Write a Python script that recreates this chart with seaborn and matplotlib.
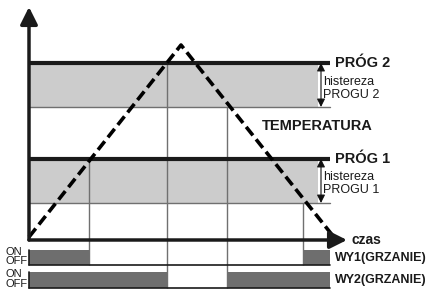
import numpy as np
import pandas as pd
import matplotlib.pyplot as plt
import seaborn as sns

# chart units: time to the right of the y axis, temperature above the time axis
tri_time = [0, 152, 304]
tri_temp = [3, 195, 4]

prog2 = 177
prog1 = 81
hyst = 44          # same hysteresis band for both thresholds
t_end = 301        # right end of the threshold lines
t_band = 289       # right end of the grey hysteresis bands
t_arrow = 292      # where the hysteresis arrows sit

# switching moments read from the vertical guides
t_wy1_off, t_wy2_off, t_wy2_on, t_wy1_on = 60, 138, 198, 274

# output rows (ON / OFF levels below the time axis)
wy1_on, wy1_off = -10, -25
wy2_on, wy2_off = -32, -48

sns.set_style("white")
plt.rcParams['font.family'] = ['Liberation Sans', 'DejaVu Sans']

fig = plt.figure(figsize=(4.29, 2.89), dpi=100)
ax = fig.add_axes([0, 0, 1, 1])
ax.set_xlim(-29, 400)
ax.set_ylim(-49, 240)
ax.axis('off')

dark = '#1a1a1a'
guide = '#707070'

# hysteresis bands
for p in (prog2, prog1):
    ax.fill_between([0, t_band], p - hyst, p, color='#cccccc', lw=0, zorder=1)
    ax.plot([0, t_end], [p - hyst, p - hyst], color=guide, lw=1, zorder=2)
    ax.plot([0, t_end], [p, p], color=dark, lw=3, solid_capstyle='butt', zorder=4)
    ax.annotate('', xy=(t_arrow, p - hyst), xytext=(t_arrow, p),
                arrowprops=dict(arrowstyle='<|-|>', color='#111111', lw=0.8,
                                mutation_scale=12, shrinkA=0, shrinkB=0), zorder=5)

# vertical switching guides
ax.vlines(t_wy1_off, wy1_off, prog1, color=guide, lw=1, zorder=2)
ax.vlines(t_wy2_off, wy2_off, prog2, color=guide, lw=1, zorder=2)
ax.vlines(t_wy2_on, wy2_off, prog2 - hyst, color=guide, lw=1, zorder=2)
ax.vlines(t_wy1_on, wy1_off, prog1 - hyst, color=guide, lw=1, zorder=2)

# temperature course
df = pd.DataFrame({'czas': tri_time, 'temp': tri_temp})
sns.lineplot(data=df, x='czas', y='temp', ax=ax, color='black', lw=2.6,
             dashes=False, zorder=6)
ax.lines[-1].set_dashes((3.0, 1.4))
ax.set_xlabel('')
ax.set_ylabel('')

# axes with arrows
ax.annotate('', xy=(0, 233), xytext=(0, 0),
            arrowprops=dict(arrowstyle='-|>', color=dark, lw=2.5,
                            mutation_scale=26, shrinkA=0, shrinkB=0), zorder=7)
ax.annotate('', xy=(318, 0), xytext=(0, 0),
            arrowprops=dict(arrowstyle='-|>', color=dark, lw=2.5,
                            mutation_scale=26, shrinkA=0, shrinkB=0), zorder=7)

# output rows
bar_grey = '#6e6e6e'
for spans, on, off in (([(0, t_wy1_off), (t_wy1_on, t_end)], wy1_on, wy1_off),
                       ([(0, t_wy2_off), (t_wy2_on, t_end)], wy2_on, wy2_off)):
    for a, b in spans:
        ax.fill_between([a, b], off, on, color=bar_grey, lw=0, zorder=3)
    ax.plot([0, t_end], [off, off], color=dark, lw=1.2, zorder=4)
    ax.plot([0, 0], [off, on], color=dark, lw=1.2, zorder=4)

# texts
tx = 306
ax.text(tx, prog2, 'PRÓG 2', fontsize=10.5, fontweight='bold', va='center', color=dark)
ax.text(tx, prog1, 'PRÓG 1', fontsize=10.5, fontweight='bold', va='center', color=dark)
ax.text(294, prog2 - 19, 'histereza', fontsize=9, va='center', color=dark)
ax.text(294, prog2 - 32, 'PROGU 2', fontsize=9, va='center', color=dark)
ax.text(294, prog1 - 18, 'histereza', fontsize=9, va='center', color=dark)
ax.text(294, prog1 - 31, 'PROGU 1', fontsize=9, va='center', color=dark)
ax.text(288, 114, 'TEMPERATURA', fontsize=10.5, fontweight='bold', ha='center',
        va='center', color=dark)
ax.text(322, 0, 'czas', fontsize=10, fontweight='bold', va='center', color=dark)
ax.text(306, (wy1_on + wy1_off) / 2, 'WY1(GRZANIE)', fontsize=9, fontweight='bold',
        va='center', color=dark)
ax.text(306, (wy2_on + wy2_off) / 2, 'WY2(GRZANIE)', fontsize=9, fontweight='bold',
        va='center', color=dark)
for on, off in ((wy1_on, wy1_off), (wy2_on, wy2_off)):
    ax.text(-24, on - 2, 'ON', fontsize=8, va='center', color=dark)
    ax.text(-24, off + 4, 'OFF', fontsize=8, va='center', color=dark)

fig.savefig('out.png', dpi=100)
